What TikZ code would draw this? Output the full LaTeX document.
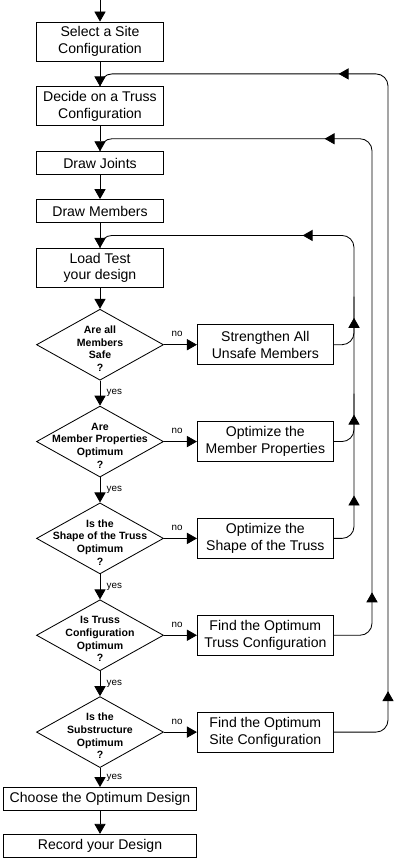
\documentclass[tikz,border=0pt]{standalone}
\usepackage{fontspec}
\setmainfont{Liberation Sans}
\usetikzlibrary{shapes.geometric, arrows.meta, positioning, calc, decorations.markings}

\newcommand{\qtext}[1]{\makebox[0pt]{\smash{\raisebox{-0.19cm}{\begin{tabular}{@{}c@{}}#1\end{tabular}}}}}

\tikzstyle{process} = [rectangle, minimum width=3.175cm, minimum height=0.975cm, text centered, align=center, inner sep=1pt, draw=black, line width=0.6pt, font=\fontsize{10}{12}\selectfont]
\tikzstyle{widebox} = [process, minimum width=4.825cm, minimum height=0.575cm]
\tikzstyle{fixbox} = [process, minimum width=3.4cm, minimum height=1cm]
\tikzstyle{decision} = [diamond, minimum width=3.175cm, minimum height=1.775cm, inner sep=0pt, draw=black, line width=0.6pt, font=\bfseries\fontsize{7.5}{9}\selectfont]
\tikzstyle{arrow} = [line width=0.6pt, ->]
\tikzstyle{feedback} = [line width=0.6pt, rounded corners=0.3cm]
\tikzstyle{lbl} = [font=\fontsize{7}{8}\selectfont, inner sep=1pt]
\tikzset{
  uptip/.style={postaction={decorate, decoration={markings, mark=at position #1 with {\arrow{>}}}}},
  looptips/.style 2 args={postaction={decorate, decoration={markings, mark=at position #1 with {\arrow{>}}, mark=at position #2 with {\arrow{>}}}}}
}

\begin{document}
\begin{tikzpicture}[>={Triangle[length=2.5mm,width=2.8mm]}, node distance=0.625cm]
\useasboundingbox (0,0) rectangle (10,-21.6);

% main column
\coordinate (top) at (2.5,0);
\node (select) [process] at (2.5,-1.0375) {Select a Site\\Configuration};
\node (decide) [process, below=of select] {Decide on a Truss\\Configuration};
\node (joints) [process, minimum height=0.575cm, below=of decide] {Draw Joints};
\node (members) [process, minimum height=0.575cm, below=0.6cm of joints] {Draw Members};
\node (load) [process, below=of members] {Load Test\\your design};
\node (d1) [decision, below=0.525cm of load] {\qtext{Are all\\Members\\Safe\\?}};
\node (d2) [decision, below=of d1] {\qtext{Are\\Member Properties\\Optimum\\?}};
\node (d3) [decision, below=of d2] {\qtext{Is the\\Shape of the Truss\\Optimum\\?}};
\node (d4) [decision, below=of d3] {\qtext{Is Truss\\Configuration\\Optimum\\?}};
\node (d5) [decision, below=of d4] {\qtext{Is the\\Substructure\\Optimum\\?}};
\node (choose) [widebox, below=0.475cm of d5] {Choose the Optimum Design};
\node (record) [widebox, below=0.575cm of choose] {Record your Design};

% side column
\node (strength) [fixbox, right=0.825cm of d1] {Strengthen All\\Unsafe Members};
\node (memprop) [fixbox, right=0.825cm of d2] {Optimize the\\Member Properties};
\node (reshape) [fixbox, right=0.825cm of d3] {Optimize the\\Shape of the Truss};
\node (trussopt) [fixbox, right=0.825cm of d4] {Find the Optimum\\Truss Configuration};
\node (siteopt) [fixbox, right=0.825cm of d5] {Find the Optimum\\Site Configuration};

% return lines
\coordinate (colA) at (8.85,0);
\coordinate (colB) at (9.3,0);
\coordinate (colC) at (9.7,0);
\coordinate (rowA) at ($(members.south)!0.5!(load.north)$);
\coordinate (rowB) at ($(decide.south)!0.5!(joints.north)$);
\coordinate (rowC) at ($(select.south)!0.5!(decide.north)$);

\draw [arrow] (top) -- (select);
\draw [arrow] (select) -- (decide);
\draw [arrow] (decide) -- (joints);
\draw [arrow] (joints) -- (members);
\draw [arrow] (members) -- (load);
\draw [arrow] (load) -- (d1);
\draw [arrow] (d1) -- node [lbl, right=0.12cm] (yes1) {yes} (d2);
\draw [arrow] (d2) -- node [lbl, right=0.12cm] (yes2) {yes} (d3);
\draw [arrow] (d3) -- node [lbl, right=0.12cm] (yes3) {yes} (d4);
\draw [arrow] (d4) -- node [lbl, right=0.12cm] (yes4) {yes} (d5);
\draw [arrow] (d5) -- node [lbl, right=0.12cm] (yes5) {yes} (choose);
\draw [arrow] (choose) -- (record);

\draw [arrow] (d1) -- node [lbl, above=0.15cm, pos=0.4] (no1) {no} (strength);
\draw [arrow] (d2) -- node [lbl, above=0.15cm, pos=0.4] (no2) {no} (memprop);
\draw [arrow] (d3) -- node [lbl, above=0.15cm, pos=0.4] (no3) {no} (reshape);
\draw [arrow] (d4) -- node [lbl, above=0.15cm, pos=0.4] (no4) {no} (trussopt);
\draw [arrow] (d5) -- node [lbl, above=0.15cm, pos=0.4] (no5) {no} (siteopt);

\draw [feedback, uptip=1.05cm] (strength.east) -- (strength.east -| colA) -- ++(0,1.2);
\draw [feedback, uptip=1.05cm] (memprop.east) -- (memprop.east -| colA) -- ++(0,1.2);
\draw [feedback, looptips={1.45cm}{-5.25cm}] (reshape.east) -- (reshape.east -| colA) -- (colA |- rowA) -- (rowA) [rounded corners=0.1cm] -- (load.north);
\draw [feedback, looptips={1.9cm}{-5.8cm}] (trussopt.east) -- (trussopt.east -| colB) -- (colB |- rowB) -- (rowB) [rounded corners=0.1cm] -- (joints.north);
\draw [feedback, looptips={2.25cm}{-6.15cm}] (siteopt.east) -- (siteopt.east -| colC) -- (colC |- rowC) -- (rowC) [rounded corners=0.1cm] -- (decide.north);

\end{tikzpicture}
\end{document}
